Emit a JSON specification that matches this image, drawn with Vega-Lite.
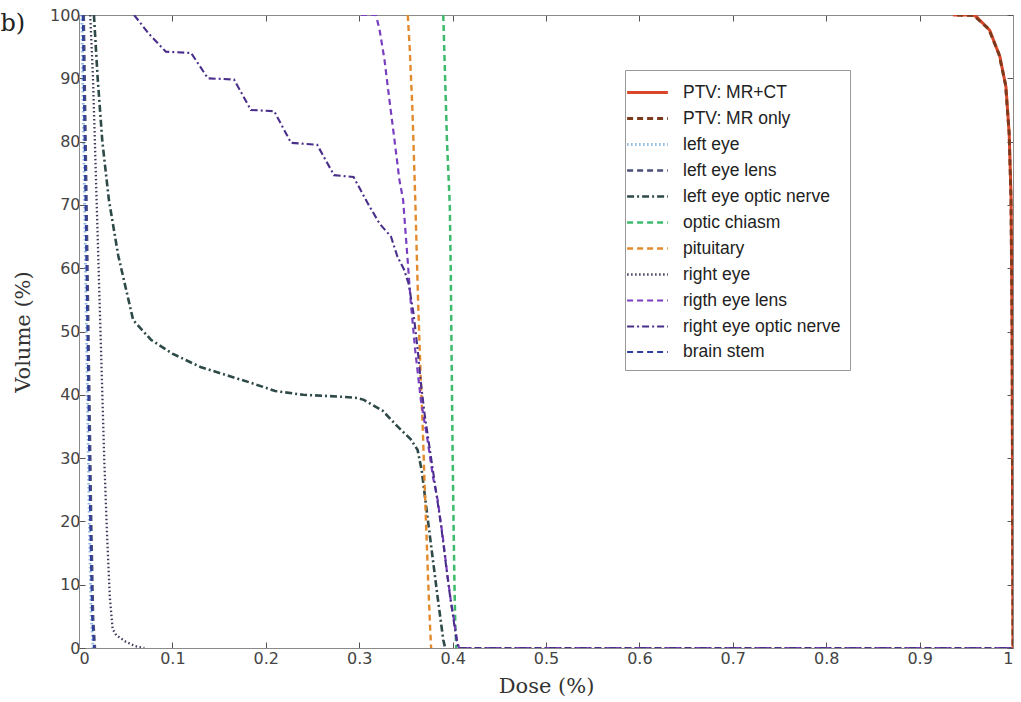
{
  "$schema": "https://vega.github.io/schema/vega-lite/v6.json",
  "width": 934,
  "height": 633,
  "autosize": {"type": "none"},
  "padding": {"left": 79, "top": 15, "right": 8, "bottom": 54},
  "background": "white",
  "config": {
    "view": {"stroke": null},
    "axis": {"grid": false, "domainColor": "#8a8a8a", "tickColor": "#555", "labelFont": "DejaVu Sans", "labelFontSize": 16, "labelColor": "#444", "titleFont": "DejaVu Serif", "titleFontSize": 21, "titleFontWeight": "normal", "titleColor": "#333"}
  },
  "data": {"values": [
    {"structure": "PTV: MR+CT", "dose": 0.9358, "volume": 100},
    {"structure": "PTV: MR+CT", "dose": 0.9572, "volume": 100},
    {"structure": "PTV: MR+CT", "dose": 0.961, "volume": 99.7},
    {"structure": "PTV: MR+CT", "dose": 0.975, "volume": 97.6},
    {"structure": "PTV: MR+CT", "dose": 0.986, "volume": 93.4},
    {"structure": "PTV: MR+CT", "dose": 0.9925, "volume": 88.6},
    {"structure": "PTV: MR+CT", "dose": 0.996, "volume": 81},
    {"structure": "PTV: MR+CT", "dose": 0.998, "volume": 70.8},
    {"structure": "PTV: MR+CT", "dose": 0.999, "volume": 50},
    {"structure": "PTV: MR+CT", "dose": 0.9995, "volume": 25},
    {"structure": "PTV: MR+CT", "dose": 1.0, "volume": 0},
    {"structure": "PTV: MR only", "dose": 0.94, "volume": 100},
    {"structure": "PTV: MR only", "dose": 0.958, "volume": 99.9},
    {"structure": "PTV: MR only", "dose": 0.974, "volume": 97.8},
    {"structure": "PTV: MR only", "dose": 0.985, "volume": 93.8},
    {"structure": "PTV: MR only", "dose": 0.992, "volume": 89},
    {"structure": "PTV: MR only", "dose": 0.9958, "volume": 81.5},
    {"structure": "PTV: MR only", "dose": 0.9978, "volume": 71},
    {"structure": "PTV: MR only", "dose": 0.999, "volume": 50},
    {"structure": "PTV: MR only", "dose": 0.9995, "volume": 25},
    {"structure": "PTV: MR only", "dose": 1.0, "volume": 0},
    {"structure": "left eye", "dose": 0.003, "volume": 100},
    {"structure": "left eye", "dose": 0.005, "volume": 80},
    {"structure": "left eye", "dose": 0.007, "volume": 60},
    {"structure": "left eye", "dose": 0.009, "volume": 40},
    {"structure": "left eye", "dose": 0.011, "volume": 20},
    {"structure": "left eye", "dose": 0.013, "volume": 5},
    {"structure": "left eye", "dose": 0.015, "volume": 0},
    {"structure": "left eye lens", "dose": 0.005, "volume": 100},
    {"structure": "left eye lens", "dose": 0.007, "volume": 80},
    {"structure": "left eye lens", "dose": 0.009, "volume": 60},
    {"structure": "left eye lens", "dose": 0.011, "volume": 40},
    {"structure": "left eye lens", "dose": 0.013, "volume": 20},
    {"structure": "left eye lens", "dose": 0.015, "volume": 5},
    {"structure": "left eye lens", "dose": 0.017, "volume": 0},
    {"structure": "left eye optic nerve", "dose": 0.016, "volume": 100},
    {"structure": "left eye optic nerve", "dose": 0.02, "volume": 90},
    {"structure": "left eye optic nerve", "dose": 0.025, "volume": 80},
    {"structure": "left eye optic nerve", "dose": 0.032, "volume": 70.8},
    {"structure": "left eye optic nerve", "dose": 0.042, "volume": 62},
    {"structure": "left eye optic nerve", "dose": 0.053, "volume": 55},
    {"structure": "left eye optic nerve", "dose": 0.058, "volume": 51.8},
    {"structure": "left eye optic nerve", "dose": 0.077, "volume": 48.7},
    {"structure": "left eye optic nerve", "dose": 0.1, "volume": 46.5},
    {"structure": "left eye optic nerve", "dose": 0.13, "volume": 44.4},
    {"structure": "left eye optic nerve", "dose": 0.16, "volume": 43},
    {"structure": "left eye optic nerve", "dose": 0.184, "volume": 41.9},
    {"structure": "left eye optic nerve", "dose": 0.21, "volume": 40.6},
    {"structure": "left eye optic nerve", "dose": 0.24, "volume": 40},
    {"structure": "left eye optic nerve", "dose": 0.28, "volume": 39.7},
    {"structure": "left eye optic nerve", "dose": 0.298, "volume": 39.5},
    {"structure": "left eye optic nerve", "dose": 0.305, "volume": 39.2},
    {"structure": "left eye optic nerve", "dose": 0.325, "volume": 37.5},
    {"structure": "left eye optic nerve", "dose": 0.341, "volume": 35},
    {"structure": "left eye optic nerve", "dose": 0.355, "volume": 33},
    {"structure": "left eye optic nerve", "dose": 0.3625, "volume": 31.3},
    {"structure": "left eye optic nerve", "dose": 0.367, "volume": 28},
    {"structure": "left eye optic nerve", "dose": 0.372, "volume": 22},
    {"structure": "left eye optic nerve", "dose": 0.378, "volume": 15},
    {"structure": "left eye optic nerve", "dose": 0.384, "volume": 8},
    {"structure": "left eye optic nerve", "dose": 0.39, "volume": 1.3},
    {"structure": "left eye optic nerve", "dose": 0.392, "volume": 0},
    {"structure": "optic chiasm", "dose": 0.39, "volume": 100},
    {"structure": "optic chiasm", "dose": 0.392, "volume": 90},
    {"structure": "optic chiasm", "dose": 0.394, "volume": 80},
    {"structure": "optic chiasm", "dose": 0.397, "volume": 70},
    {"structure": "optic chiasm", "dose": 0.398, "volume": 60},
    {"structure": "optic chiasm", "dose": 0.399, "volume": 45},
    {"structure": "optic chiasm", "dose": 0.4, "volume": 31},
    {"structure": "optic chiasm", "dose": 0.401, "volume": 20},
    {"structure": "optic chiasm", "dose": 0.402, "volume": 10},
    {"structure": "optic chiasm", "dose": 0.403, "volume": 3},
    {"structure": "optic chiasm", "dose": 0.404, "volume": 0},
    {"structure": "pituitary", "dose": 0.352, "volume": 100},
    {"structure": "pituitary", "dose": 0.354, "volume": 95},
    {"structure": "pituitary", "dose": 0.357, "volume": 85},
    {"structure": "pituitary", "dose": 0.36, "volume": 71},
    {"structure": "pituitary", "dose": 0.363, "volume": 55},
    {"structure": "pituitary", "dose": 0.366, "volume": 42},
    {"structure": "pituitary", "dose": 0.368, "volume": 35},
    {"structure": "pituitary", "dose": 0.37, "volume": 26},
    {"structure": "pituitary", "dose": 0.372, "volume": 18},
    {"structure": "pituitary", "dose": 0.374, "volume": 10},
    {"structure": "pituitary", "dose": 0.376, "volume": 3},
    {"structure": "pituitary", "dose": 0.377, "volume": 0},
    {"structure": "right eye", "dose": 0.012, "volume": 100},
    {"structure": "right eye", "dose": 0.015, "volume": 90},
    {"structure": "right eye", "dose": 0.018, "volume": 75},
    {"structure": "right eye", "dose": 0.021, "volume": 60},
    {"structure": "right eye", "dose": 0.024, "volume": 45},
    {"structure": "right eye", "dose": 0.027, "volume": 30},
    {"structure": "right eye", "dose": 0.03, "volume": 18},
    {"structure": "right eye", "dose": 0.033, "volume": 8},
    {"structure": "right eye", "dose": 0.036, "volume": 3},
    {"structure": "right eye", "dose": 0.04, "volume": 2},
    {"structure": "right eye", "dose": 0.05, "volume": 1},
    {"structure": "right eye", "dose": 0.06, "volume": 0.3},
    {"structure": "right eye", "dose": 0.07, "volume": 0},
    {"structure": "rigth eye lens", "dose": 0.302, "volume": 100},
    {"structure": "rigth eye lens", "dose": 0.318, "volume": 100},
    {"structure": "rigth eye lens", "dose": 0.322, "volume": 97.5},
    {"structure": "rigth eye lens", "dose": 0.327, "volume": 93},
    {"structure": "rigth eye lens", "dose": 0.332, "volume": 87},
    {"structure": "rigth eye lens", "dose": 0.338, "volume": 80},
    {"structure": "rigth eye lens", "dose": 0.343, "volume": 74},
    {"structure": "rigth eye lens", "dose": 0.347, "volume": 70.8},
    {"structure": "rigth eye lens", "dose": 0.351, "volume": 63},
    {"structure": "rigth eye lens", "dose": 0.355, "volume": 55},
    {"structure": "rigth eye lens", "dose": 0.36, "volume": 47},
    {"structure": "rigth eye lens", "dose": 0.366, "volume": 39.2},
    {"structure": "rigth eye lens", "dose": 0.373, "volume": 33},
    {"structure": "rigth eye lens", "dose": 0.379, "volume": 27},
    {"structure": "rigth eye lens", "dose": 0.384, "volume": 23.4},
    {"structure": "rigth eye lens", "dose": 0.39, "volume": 17},
    {"structure": "rigth eye lens", "dose": 0.394, "volume": 12},
    {"structure": "rigth eye lens", "dose": 0.398, "volume": 7.6},
    {"structure": "rigth eye lens", "dose": 0.402, "volume": 4},
    {"structure": "rigth eye lens", "dose": 0.405, "volume": 1},
    {"structure": "rigth eye lens", "dose": 0.407, "volume": 0},
    {"structure": "rigth eye lens", "dose": 1.0, "volume": 0},
    {"structure": "right eye optic nerve", "dose": 0.059, "volume": 100},
    {"structure": "right eye optic nerve", "dose": 0.075, "volume": 97},
    {"structure": "right eye optic nerve", "dose": 0.093, "volume": 94.2},
    {"structure": "right eye optic nerve", "dose": 0.12, "volume": 94},
    {"structure": "right eye optic nerve", "dose": 0.138, "volume": 90},
    {"structure": "right eye optic nerve", "dose": 0.166, "volume": 89.8},
    {"structure": "right eye optic nerve", "dose": 0.184, "volume": 85},
    {"structure": "right eye optic nerve", "dose": 0.209, "volume": 84.8},
    {"structure": "right eye optic nerve", "dose": 0.227, "volume": 79.8},
    {"structure": "right eye optic nerve", "dose": 0.255, "volume": 79.5},
    {"structure": "right eye optic nerve", "dose": 0.273, "volume": 74.7},
    {"structure": "right eye optic nerve", "dose": 0.294, "volume": 74.4},
    {"structure": "right eye optic nerve", "dose": 0.309, "volume": 70.3},
    {"structure": "right eye optic nerve", "dose": 0.322, "volume": 67},
    {"structure": "right eye optic nerve", "dose": 0.334, "volume": 65},
    {"structure": "right eye optic nerve", "dose": 0.341, "volume": 61.8},
    {"structure": "right eye optic nerve", "dose": 0.348, "volume": 59.8},
    {"structure": "right eye optic nerve", "dose": 0.353, "volume": 57.5},
    {"structure": "right eye optic nerve", "dose": 0.358, "volume": 53},
    {"structure": "right eye optic nerve", "dose": 0.362, "volume": 48},
    {"structure": "right eye optic nerve", "dose": 0.366, "volume": 42},
    {"structure": "right eye optic nerve", "dose": 0.37, "volume": 37},
    {"structure": "right eye optic nerve", "dose": 0.376, "volume": 31},
    {"structure": "right eye optic nerve", "dose": 0.382, "volume": 25},
    {"structure": "right eye optic nerve", "dose": 0.388, "volume": 19},
    {"structure": "right eye optic nerve", "dose": 0.393, "volume": 13},
    {"structure": "right eye optic nerve", "dose": 0.397, "volume": 8.5},
    {"structure": "right eye optic nerve", "dose": 0.401, "volume": 4.5},
    {"structure": "right eye optic nerve", "dose": 0.404, "volume": 1.5},
    {"structure": "right eye optic nerve", "dose": 0.406, "volume": 0},
    {"structure": "right eye optic nerve", "dose": 1.0, "volume": 0},
    {"structure": "brain stem", "dose": 0.004, "volume": 100},
    {"structure": "brain stem", "dose": 0.006, "volume": 80},
    {"structure": "brain stem", "dose": 0.008, "volume": 60},
    {"structure": "brain stem", "dose": 0.01, "volume": 40},
    {"structure": "brain stem", "dose": 0.012, "volume": 20},
    {"structure": "brain stem", "dose": 0.014, "volume": 5},
    {"structure": "brain stem", "dose": 0.016, "volume": 0}
  ]},
  "layer": [
    {
      "mark": {"type": "line", "clip": true},
      "encoding": {
        "x": {"field": "dose", "type": "quantitative", "scale": {"domain": [0, 1], "nice": false, "zero": false},
              "axis": {"orient": "bottom", "title": "Dose (%)", "values": [0, 0.1, 0.2, 0.3, 0.4, 0.5, 0.6, 0.7, 0.8, 0.9, 1], "format": "~g", "tickSize": -6, "labelPadding": 8, "titlePadding": 9}},
        "y": {"field": "volume", "type": "quantitative", "scale": {"domain": [0, 100], "nice": false},
              "axis": {"orient": "left", "title": "Volume (%)", "values": [0, 10, 20, 30, 40, 50, 60, 70, 80, 90, 100], "format": "d", "tickSize": -6, "labelPadding": 5, "titlePadding": 16}},
        "color": {"field": "structure", "type": "nominal", "title": null,
          "scale": {"domain": ["PTV: MR+CT", "PTV: MR only", "left eye", "left eye lens", "left eye optic nerve", "optic chiasm", "pituitary", "right eye", "rigth eye lens", "right eye optic nerve", "brain stem"],
                    "range": ["#d8472a", "#7b3a1c", "#8fb8e0", "#4a4f7a", "#2e4a48", "#3dba6a", "#e38a2e", "#3b3b5c", "#7a3fc0", "#4a2f8a", "#2f3fa0"]},
          "legend": {"orient": "none", "legendX": 546, "legendY": 55, "symbolType": "M-1.7,0H1.7", "symbolSize": 576, "symbolStrokeWidth": 2, "symbolFillColor": "transparent", "labelFont": "Liberation Sans", "labelFontSize": 17.5, "labelColor": "#222", "labelOffset": 22, "rowPadding": 4, "padding": 9, "strokeColor": "#999", "fillColor": "white"}},
        "strokeDash": {"field": "structure", "type": "nominal", "title": null,
          "scale": {"domain": ["PTV: MR+CT", "PTV: MR only", "left eye", "left eye lens", "left eye optic nerve", "optic chiasm", "pituitary", "right eye", "rigth eye lens", "right eye optic nerve", "brain stem"],
                    "range": [[1, 0], [6, 4], [1.5, 2.5], [6, 4], [7, 3, 2, 3], [6, 4], [6, 4], [1.5, 2.5], [6, 4], [7, 3, 2, 3], [6, 4]]}},
        "strokeWidth": {"field": "structure", "type": "nominal", "legend": null,
          "scale": {"domain": ["PTV: MR+CT", "PTV: MR only", "left eye", "left eye lens", "left eye optic nerve", "optic chiasm", "pituitary", "right eye", "rigth eye lens", "right eye optic nerve", "brain stem"],
                    "range": [3, 2, 2, 2, 2, 2, 2, 2, 2, 2, 2.5]}}
      }
    },
    {
      "mark": {"type": "line", "opacity": 0},
      "encoding": {
        "x": {"field": "dose", "type": "quantitative", "axis": {"orient": "top", "title": "b)", "titleX": -79, "titleY": 15, "titleAlign": "left", "titleBaseline": "alphabetic", "titleAngle": 0, "titleFont": "DejaVu Serif", "titleFontSize": 24, "titleColor": "#222", "labels": false, "values": [0, 0.1, 0.2, 0.3, 0.4, 0.5, 0.6, 0.7, 0.8, 0.9, 1], "tickSize": -6}},
        "y": {"field": "volume", "type": "quantitative", "axis": {"orient": "right", "title": null, "labels": false, "values": [0, 10, 20, 30, 40, 50, 60, 70, 80, 90, 100], "tickSize": -6}}
      }
    }
  ],
  "resolve": {"axis": {"x": "independent", "y": "independent"}}
}
